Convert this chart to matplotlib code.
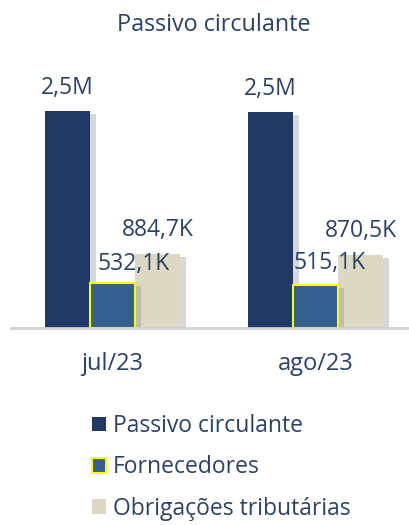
import matplotlib
matplotlib.use("Agg")
import matplotlib.pyplot as plt
import matplotlib.patheffects as pe
from matplotlib.patches import Patch
import numpy as np

# ---- data ----
categories = ["jul/23", "ago/23"]
series_names = ["Passivo circulante", "Fornecedores", "Obrigações tributárias"]
passivo = [2.59e6, 2.575e6]
fornecedores = [532.1e3, 515.1e3]
obrigacoes = [884.7e3, 870.5e3]
labels_passivo = ["2,5M", "2,5M"]
labels_fornecedores = ["532,1K", "515,1K"]
labels_obrigacoes = ["884,7K", "870,5K"]

# ---- style ----
FONT = "Open Sans"
TXT = "#2a4266"
colors = ["#203864", "#355f8f", "#ddd8c3"]
edges = ["#203864", "#ffff00", "#ddd8c3"]

W, H = 410, 525
fig = plt.figure(figsize=(W / 100, H / 100), dpi=100)
fig.patch.set_facecolor("white")

ax_left, ax_right, ax_bottom_px, ax_top_px = 11, 410, 328, 80
ax = fig.add_axes([ax_left / W, (H - ax_bottom_px) / H,
                   (ax_right - ax_left) / W, (ax_bottom_px - ax_top_px) / H])

x = np.arange(len(categories))
bw = 0.2217
shadow = [pe.SimplePatchShadow(offset=(4, -2), shadow_rgbFace="#7f7f7f", alpha=0.3),
          pe.Normal()]

all_series = [passivo, fornecedores, obrigacoes]
all_labels = [labels_passivo, labels_fornecedores, labels_obrigacoes]
offsets = [-bw, 0, bw]
# label offsets in points (dx, dy above bar top)
lab_dx = [[0, 0], [15, 10], [0, 0]]
lab_dy = [[8, 8], [5, 7], [8.5, 8.5]]

for i, (vals, labs) in enumerate(zip(all_series, all_labels)):
    bars = ax.bar(x + offsets[i], vals, width=bw, color=colors[i],
                  edgecolor=edges[i], linewidth=1.5 if i == 1 else 0,
                  label=series_names[i], zorder=2 + (0 if i != 1 else 1))
    for b in bars:
        b.set_path_effects(shadow)
    for j, b in enumerate(bars):
        ax.annotate(labs[j], (b.get_x() + b.get_width() / 2, b.get_height()),
                    xytext=(lab_dx[i][j], lab_dy[i][j]), textcoords="offset points",
                    ha="center", va="bottom", fontsize=16.5, color=TXT,
                    family=FONT, zorder=5)

ax.set_xlim((ax_left - 112.5) / 203, (ax_right - 112.5) / 203)
ax.set_ylim(0, 2.59e6 * (ax_bottom_px - ax_top_px) / (ax_bottom_px - 111))
ax.set_yticks([])
ax.set_xticks(x)
ax.set_xticklabels(categories, family=FONT, fontsize=17, color=TXT)
ax.tick_params(axis="x", length=0, pad=17)
for s in ["top", "right", "left"]:
    ax.spines[s].set_visible(False)
ax.spines["bottom"].set_color("#d0d0d0")
ax.spines["bottom"].set_linewidth(2)
ax.spines["bottom"].set_zorder(10)

fig.text(214 / W, 1 - 25 / H, "Passivo circulante", ha="center", va="center",
         family=FONT, fontsize=16.8, color=TXT)

handles = [Patch(facecolor=colors[k], edgecolor=edges[k],
                 linewidth=1.5 if k == 1 else 0) for k in range(3)]
fig.legend(handles, series_names, loc="upper left",
           bbox_to_anchor=(92 / W, 1 - 414 / H), frameon=False,
           prop={"family": FONT, "size": 16.5}, labelcolor=TXT,
           handlelength=0.62, handleheight=0.62, handletextpad=0.3,
           labelspacing=0.76, borderaxespad=0, borderpad=0)

fig.savefig("out.png", dpi=100, facecolor="white")
